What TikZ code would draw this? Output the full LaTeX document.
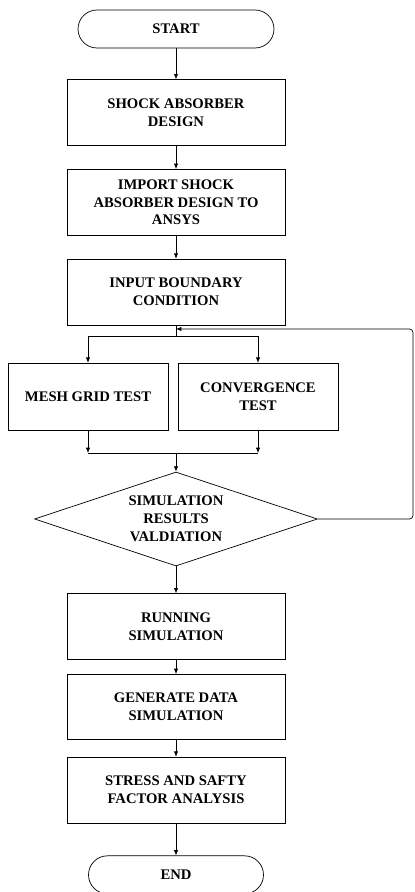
\documentclass[tikz,border=0pt]{standalone}
\usepackage{fontspec}
\setmainfont{Liberation Serif}
\usetikzlibrary{arrows.meta,positioning,shapes.geometric,calc}
\tikzset{
  process/.style={draw,line width=0.6pt,minimum width=6.54cm,minimum height=1.98cm,
    align=center,font=\fontsize{12.5}{15.2}\selectfont\bfseries},
  terminal/.style={draw,line width=0.6pt,rounded corners=0.57cm,minimum width=5.88cm,
    minimum height=1.14cm,align=center,font=\fontsize{12.5}{15.2}\selectfont\bfseries},
  decision/.style={draw,line width=0.6pt,diamond,aspect=3,inner sep=0pt,
    minimum width=8.49cm,minimum height=2.82cm,align=center,
    font=\fontsize{12.5}{15.2}\selectfont\bfseries},
  arrow/.style={-{Latex[length=1.6mm,width=1.3mm]},line width=0.6pt},
  link/.style={line width=0.6pt}
}
\begin{document}
\begin{tikzpicture}
  \useasboundingbox (0,0) rectangle (12.45,-26.76);

  \node[terminal] (start) at (5.28,-0.87) {START};
  \node[process, below=0.93cm of start] (design) {SHOCK ABSORBER\\DESIGN};
  \node[process, below=0.69cm of design] (import) {IMPORT SHOCK\\ABSORBER DESIGN TO\\ANSYS};
  \node[process, below=0.69cm of import] (input) {INPUT BOUNDARY\\CONDITION};

  \node[process, minimum width=4.8cm, minimum height=2.01cm] (mesh) at (2.64,-11.9) {MESH GRID TEST};
  \node[process, minimum width=4.8cm, minimum height=2.01cm] (conv) at (7.74,-11.9) {CONVERGENCE\\TEST};

  \node[decision] (valid) at (5.28,-15.57) {SIMULATION\\RESULTS\\VALDIATION};

  \node[process, below=0.81cm of valid] (run) {RUNNING\\SIMULATION};
  \node[process, minimum height=1.95cm, below=0.42cm of run] (gen) {GENERATE DATA\\SIMULATION};
  \node[process, below=0.51cm of gen] (stress) {STRESS AND SAFTY\\FACTOR ANALYSIS};
  \node[terminal, minimum width=5.25cm, below=0.96cm of stress] (end) {END};

  % split and merge points
  \coordinate (split) at (5.28,-10.08);
  \coordinate (merge) at (5.28,-13.59);
  \coordinate (loop) at (12.39,-9.87);

  \draw[arrow] (start) -- (design);
  \draw[arrow] (design) -- (import);
  \draw[arrow] (import) -- (input);
  \draw[link] (input.south) -- (split);
  \draw[link] (split -| mesh) -- (split -| conv);
  \draw[arrow] (split -| mesh) -- (mesh);
  \draw[arrow] (split -| conv) -- (conv);
  \draw[arrow] (mesh) -- (merge -| mesh);
  \draw[arrow] (conv) -- (merge -| conv);
  \draw[link] (merge -| mesh) -- (merge -| conv);
  \draw[arrow] (merge) -- (valid.north);
  \draw[arrow, rounded corners=3pt] (valid.east) -| (loop) -- (loop -| input.south);
  \draw[arrow] (valid.south) -- (run);
  \draw[arrow] (run) -- (gen);
  \draw[arrow] (gen) -- (stress);
  \draw[arrow] (stress) -- (end);
\end{tikzpicture}
\end{document}
